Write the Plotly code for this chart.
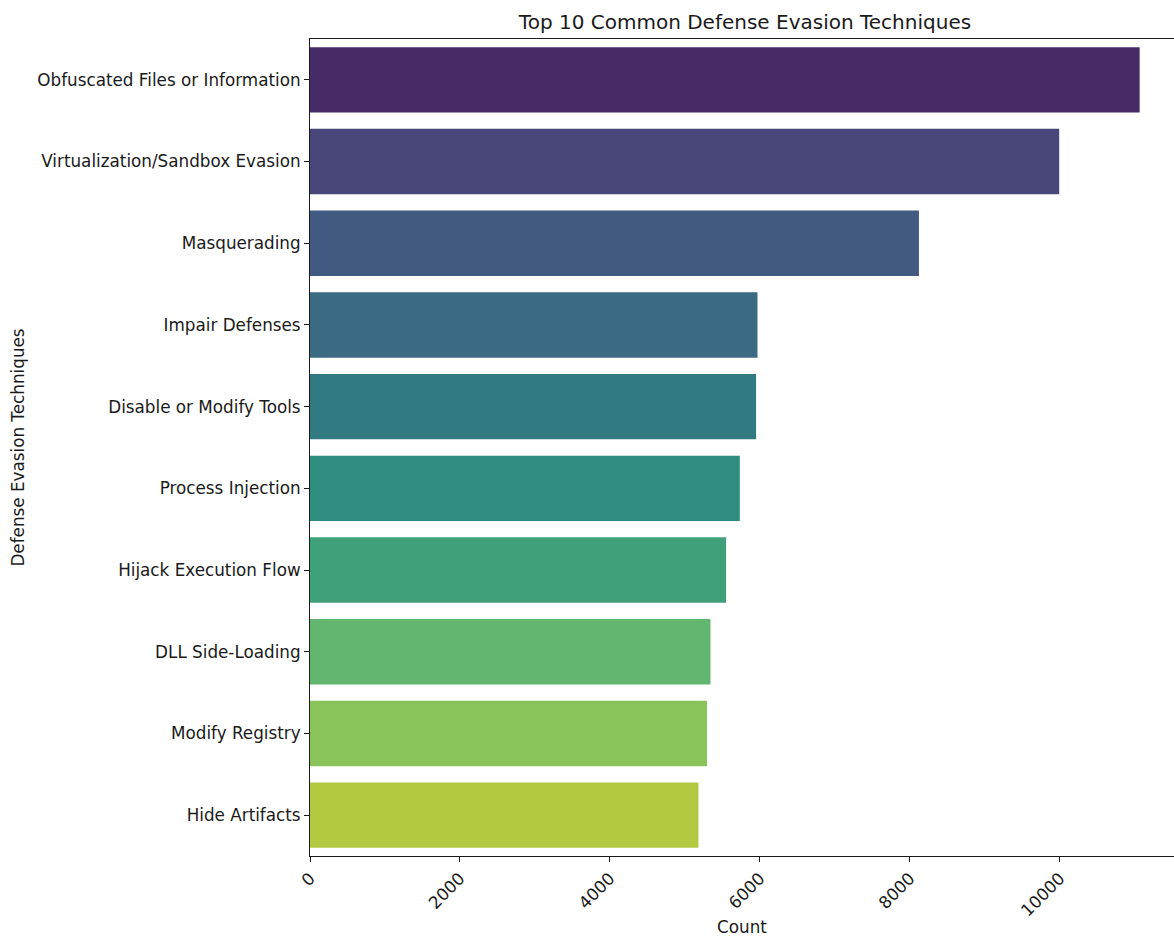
import colorsys
import plotly.graph_objects as go
from plotly.colors import sample_colorscale

# Technique names, ordered from most to least frequent
techniques = [
    "Obfuscated Files or Information",
    "Virtualization/Sandbox Evasion",
    "Masquerading",
    "Impair Defenses",
    "Disable or Modify Tools",
    "Process Injection",
    "Hijack Execution Flow",
    "DLL Side-Loading",
    "Modify Registry",
    "Hide Artifacts",
]
counts = [11063, 9990, 8120, 5967, 5948, 5731, 5548, 5340, 5295, 5180]
x_ticks = [0, 2000, 4000, 6000, 8000, 10000]


def desaturate(rgb_str, prop=0.75):
    # rgb(r, g, b) -> desaturated hex, same as seaborn's bar saturation
    vals = [float(v) / 255 for v in rgb_str[rgb_str.index("(") + 1:-1].split(",")]
    h, l, s = colorsys.rgb_to_hls(*vals)
    r, g, b = colorsys.hls_to_rgb(h, l, s * prop)
    return "#%02x%02x%02x" % (round(r * 255), round(g * 255), round(b * 255))


n = len(techniques)
palette = sample_colorscale("Viridis", [(i + 1) / (n + 1) for i in range(n)])
bar_colors = [desaturate(c) for c in palette]

font_family = "DejaVu Sans, sans-serif"
ink = "#1a1a1a"

fig = go.Figure(
    go.Bar(
        x=counts,
        y=techniques,
        orientation="h",
        width=0.8,
        marker=dict(color=bar_colors, line=dict(width=0)),
        hoverinfo="x+y",
    )
)

fig.update_layout(
    width=1174,
    height=937,
    margin=dict(l=310, r=0, t=39, b=81),
    plot_bgcolor="white",
    paper_bgcolor="white",
    font=dict(family=font_family, size=16.8, color=ink),
    showlegend=False,
    title=dict(
        text="Top 10 Common Defense Evasion Techniques",
        x=745 / 1174,
        xanchor="center",
        y=1 - 22 / 937,
        yanchor="middle",
        font=dict(size=20, color=ink),
    ),
)

fig.update_xaxes(
    range=[0, 11521],
    tickvals=x_ticks,
    ticktext=[str(v) for v in x_ticks],
    tickangle=-45,
    ticks="outside",
    ticklen=5,
    tickcolor=ink,
    showline=True,
    linecolor=ink,
    linewidth=1,
    mirror=True,
    showgrid=False,
    zeroline=False,
    title=dict(text="Count", standoff=6, font=dict(size=16.8)),
)

fig.update_yaxes(
    categoryorder="array",
    categoryarray=techniques,
    range=[n - 0.5, -0.5],
    ticks="outside",
    ticklen=5,
    tickcolor=ink,
    showline=True,
    linecolor=ink,
    linewidth=1,
    showgrid=False,
    zeroline=False,
    title=dict(text="Defense Evasion Techniques", standoff=8, font=dict(size=16.8)),
)

fig.write_html("out.html")
